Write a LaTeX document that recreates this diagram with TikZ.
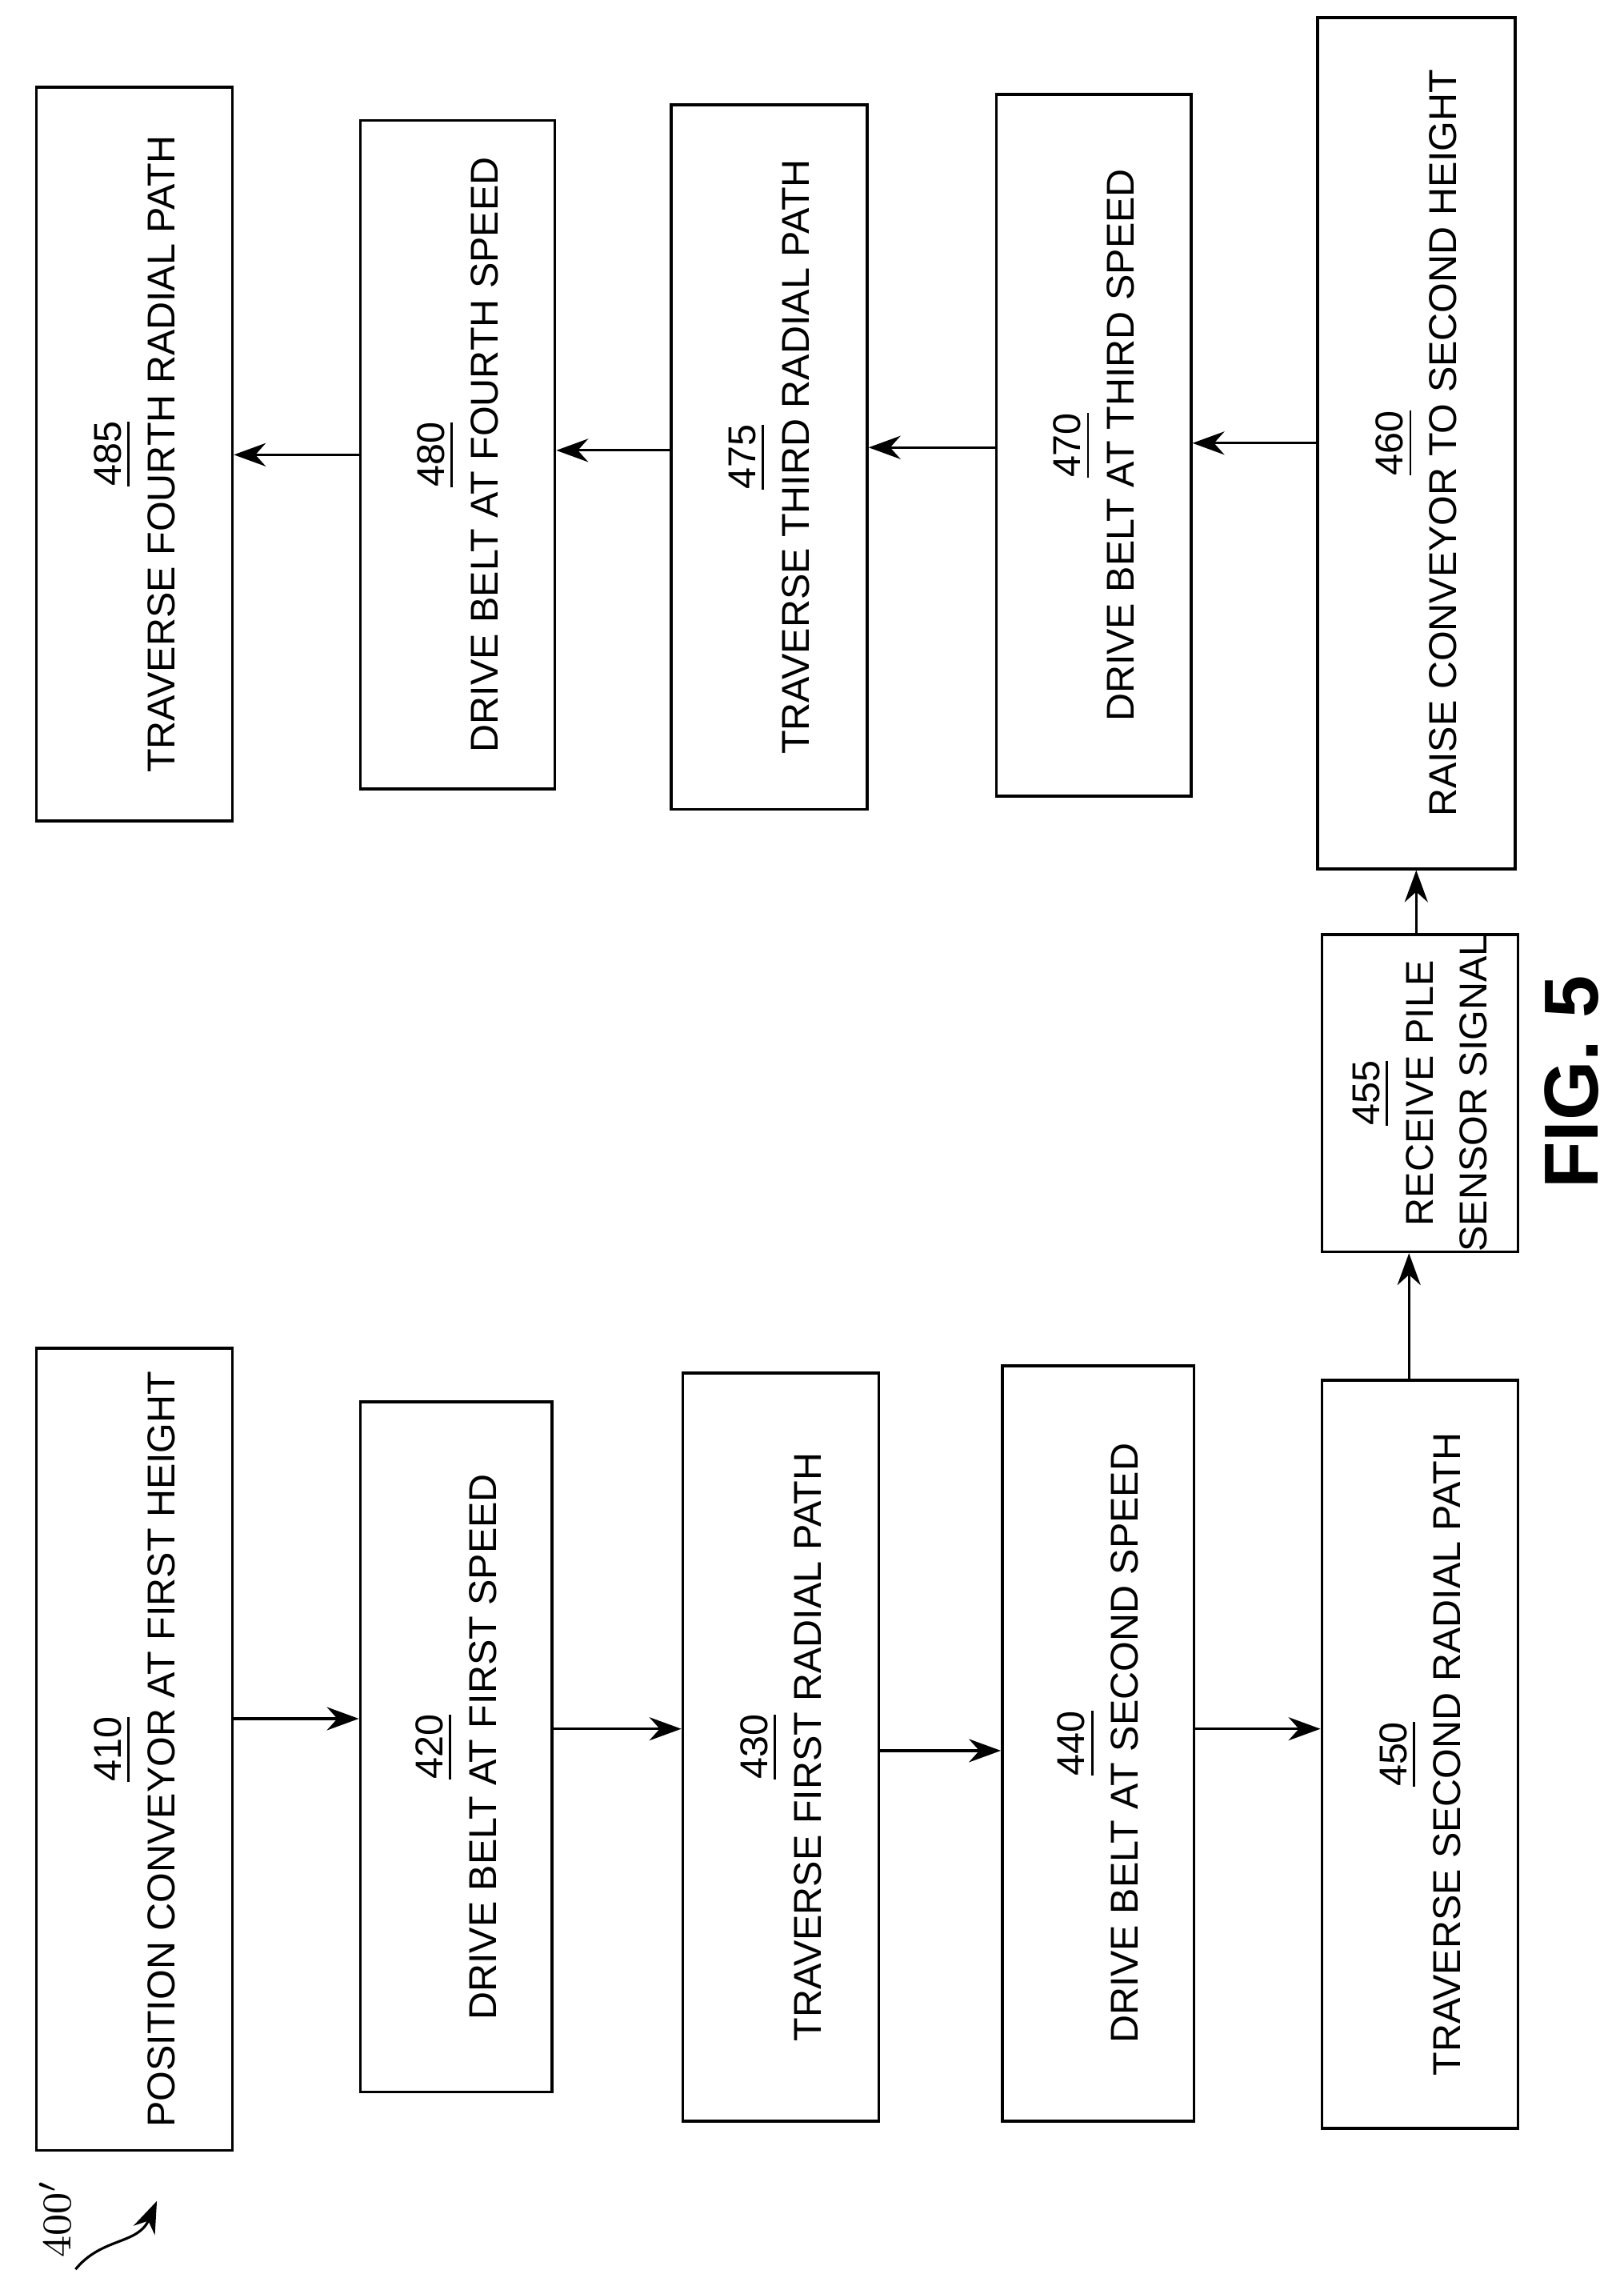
\documentclass[tikz,border=0pt]{standalone}
\usepackage{fontspec}
\setmainfont{Liberation Sans}
\usetikzlibrary{arrows.meta}
\begin{document}
\begin{tikzpicture}[x=0.1mm,y=-0.1mm,
  box/.style={draw,line width=0.55pt,rotate=90,align=center,inner sep=0pt,font=\fontsize{7.6pt}{10.5pt}\selectfont},
  arr/.style={line width=0.5pt,-{Stealth[length=2.2mm,width=1.6mm]}}]
\useasboundingbox (0,0) rectangle (1118,1568);
\newcommand{\bx}[7]{\node[box,minimum width={(#5-#4)*0.1mm},minimum height={(#3-#2)*0.1mm}] (#1) at ({(#2+#3)/2},{(#4+#5)/2}) {\underline{#6}\\#7};}
\bx{n410}{25}{160}{928}{1480}{410}{POSITION CONVEYOR AT FIRST HEIGHT}
\bx{n420}{248}{380}{965}{1440}{420}{DRIVE BELT AT FIRST SPEED}
\bx{n430}{470}{605}{945}{1460}{430}{TRAVERSE FIRST RADIAL PATH}
\bx{n440}{690}{822}{940}{1460}{440}{DRIVE BELT AT SECOND SPEED}
\bx{n450}{910}{1045}{950}{1465}{450}{TRAVERSE SECOND RADIAL PATH}
\bx{n455}{910}{1045}{645}{860}{455}{RECEIVE PILE\\SENSOR SIGNAL}
\bx{n460}{907}{1043}{12}{598}{460}{RAISE CONVEYOR TO SECOND HEIGHT}
\bx{n470}{686}{820}{65}{548}{470}{DRIVE BELT AT THIRD SPEED}
\bx{n475}{462}{597}{72}{557}{475}{TRAVERSE THIRD RADIAL PATH}
\bx{n480}{248}{382}{83}{543}{480}{DRIVE BELT AT FOURTH SPEED}
\bx{n485}{25}{160}{60}{565}{485}{TRAVERSE FOURTH RADIAL PATH}
\coordinate (a1) at (0,1183);\coordinate (a2) at (0,1190);\coordinate (a3) at (0,1205);\coordinate (a4) at (0,1190);
\draw[arr] (n410.south |- a1) -- (n420.north |- a1);
\draw[arr] (n420.south |- a2) -- (n430.north |- a2);
\draw[arr] (n430.south |- a3) -- (n440.north |- a3);
\draw[arr] (n440.south |- a4) -- (n450.north |- a4);
\coordinate (v1) at (970,0);\coordinate (v2) at (975,0);
\draw[arr] (n450.east -| v1) -- (n455.west -| v1);
\draw[arr] (n455.east -| v2) -- (n460.west -| v2);
\coordinate (b1) at (0,305);\coordinate (b2) at (0,308);\coordinate (b3) at (0,310);\coordinate (b4) at (0,313);
\draw[arr] (n460.north |- b1) -- (n470.south |- b1);
\draw[arr] (n470.north |- b2) -- (n475.south |- b2);
\draw[arr] (n475.north |- b3) -- (n480.south |- b3);
\draw[arr] (n480.north |- b4) -- (n485.south |- b4);
\node[rotate=90,font=\bfseries\fontsize{15pt}{15pt}\selectfont] (fig) at (1082,745) {FIG. 5};
\node[rotate=90,font=\fontfamily{lmr}\selectfont\fontsize{8pt}{8pt}\selectfont] (lbl) at (38,1527) {400$'$};
\coordinate (c1) at (52,1562);
\coordinate (c2) at (108,1515);
\draw[arr] (c1) .. controls (70,1540) and (95,1545) .. (c2);
\end{tikzpicture}
\end{document}
